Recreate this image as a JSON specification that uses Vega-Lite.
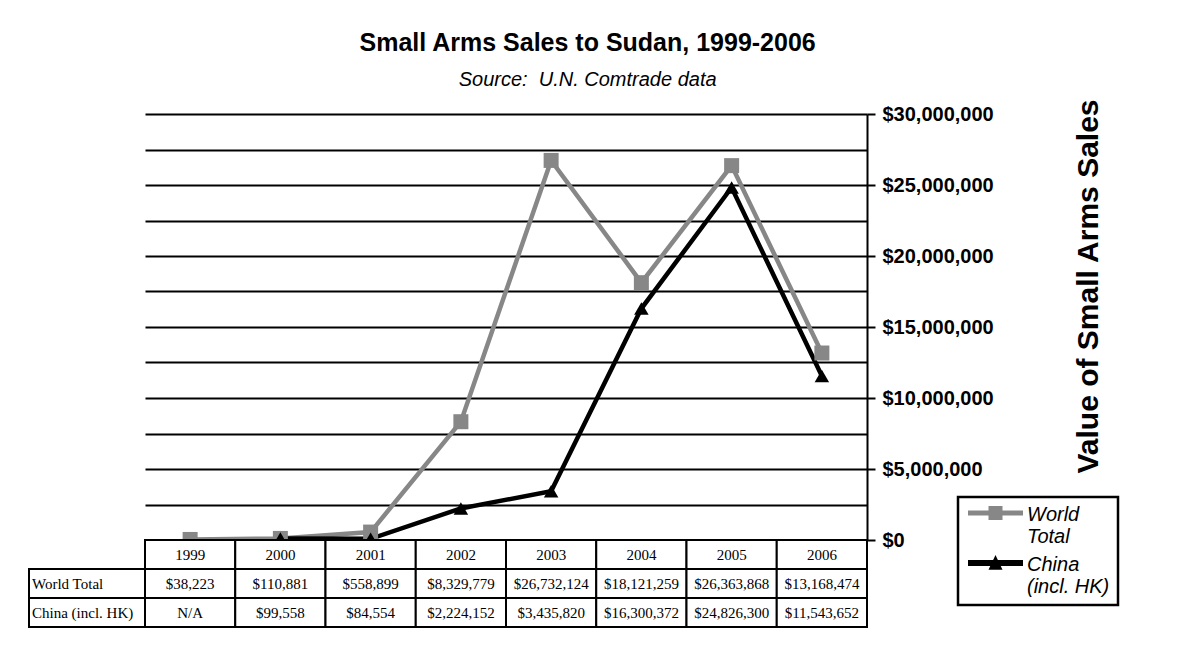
{
  "$schema": "https://vega.github.io/schema/vega-lite/v6.json",
  "background": "white",
  "padding": {"left": 28, "top": 31, "right": 0, "bottom": 0},
  "datasets": {
    "sales": [
      {"year": 1999, "series": "World Total", "value": 38223},
      {"year": 2000, "series": "World Total", "value": 110881},
      {"year": 2001, "series": "World Total", "value": 558899},
      {"year": 2002, "series": "World Total", "value": 8329779},
      {"year": 2003, "series": "World Total", "value": 26732124},
      {"year": 2004, "series": "World Total", "value": 18121259},
      {"year": 2005, "series": "World Total", "value": 26363868},
      {"year": 2006, "series": "World Total", "value": 13168474},
      {"year": 1999, "series": "China (incl. HK)", "value": null},
      {"year": 2000, "series": "China (incl. HK)", "value": 99558},
      {"year": 2001, "series": "China (incl. HK)", "value": 84554},
      {"year": 2002, "series": "China (incl. HK)", "value": 2224152},
      {"year": 2003, "series": "China (incl. HK)", "value": 3435820},
      {"year": 2004, "series": "China (incl. HK)", "value": 16300372},
      {"year": 2005, "series": "China (incl. HK)", "value": 24826300},
      {"year": 2006, "series": "China (incl. HK)", "value": 11543652}
    ]
  },
  "title": {
    "text": "Small Arms Sales to Sudan, 1999-2006",
    "subtitle": "Source:\u00a0 U.N. Comtrade data",
    "anchor": "middle",
    "dx": 14,
    "offset": 8,
    "font": "Liberation Sans",
    "fontSize": 25,
    "fontWeight": "bold",
    "color": "black",
    "subtitleFont": "Liberation Sans",
    "subtitleFontSize": 20,
    "subtitleFontStyle": "italic",
    "subtitleColor": "black",
    "subtitlePadding": 14
  },
  "columns": 2,
  "spacing": 0,
  "bounds": "flush",
  "concat": [
    {
      "width": 116,
      "height": 426,
      "data": {"values": [{}]},
      "mark": {"type": "text"},
      "encoding": {"text": {"value": ""}}
    },
    {
      "width": 722,
      "height": 426,
      "data": {"name": "sales"},
      "resolve": {"scale": {"y": "independent"}},
      "layer": [
        {
          "transform": [{"filter": "datum.year < 0"}],
          "mark": {"type": "point", "opacity": 0},
          "encoding": {
            "y": {
              "field": "value",
              "type": "quantitative",
              "scale": {"domain": [0, 30000000], "nice": false, "zero": true},
              "axis": {
                "orient": "left",
                "values": [0, 2500000, 5000000, 7500000, 10000000, 12500000, 15000000, 17500000, 20000000, 22500000, 25000000, 27500000, 30000000],
                "grid": true,
                "gridColor": "black",
                "gridWidth": 2,
                "gridOpacity": 1,
                "labels": false,
                "ticks": false,
                "domain": false,
                "title": null
              }
            }
          }
        },
        {
          "layer": [
            {
              "transform": [{"filter": "datum.series == 'World Total'"}],
              "mark": {"type": "line", "strokeWidth": 4.5, "color": "#878787"},
              "encoding": {
                "x": {"field": "year", "type": "ordinal", "scale": {"type": "point", "padding": 0.5}, "axis": null},
                "y": {
                  "field": "value",
                  "type": "quantitative",
                  "scale": {"domain": [0, 30000000], "nice": false, "zero": true},
                  "axis": {
                    "orient": "right",
                    "values": [0, 5000000, 10000000, 15000000, 20000000, 25000000, 30000000],
                    "grid": false,
                    "format": "$,d",
                    "domainColor": "black",
                    "domainWidth": 2,
                    "tickColor": "black",
                    "tickWidth": 2,
                    "tickSize": 8,
                    "labelFont": "Liberation Sans",
                    "labelFontSize": 20,
                    "labelFontWeight": "bold",
                    "labelColor": "black",
                    "labelPadding": 7,
                    "labelOverlap": false,
                    "title": "Value of Small Arms Sales",
                    "titleFont": "Liberation Sans",
                    "titleFontSize": 30,
                    "titleFontWeight": "bold",
                    "titleColor": "black",
                    "titleAngle": 270,
                    "titleBaseline": "top",
                    "titleAlign": "center",
                    "titleY": 172,
                    "titlePadding": 80
                  }
                }
              }
            },
            {
              "transform": [{"filter": "datum.series == 'China (incl. HK)'"}],
              "mark": {"type": "line", "strokeWidth": 4.5, "color": "#000000"},
              "encoding": {
                "x": {"field": "year", "type": "ordinal"},
                "y": {"field": "value", "type": "quantitative"}
              }
            },
            {
              "transform": [{"filter": "datum.series == 'World Total'"}],
              "mark": {"type": "point", "filled": true, "shape": "square", "size": 225, "color": "#878787", "opacity": 1},
              "encoding": {
                "x": {"field": "year", "type": "ordinal"},
                "y": {"field": "value", "type": "quantitative"}
              }
            },
            {
              "transform": [{"filter": "datum.series == 'China (incl. HK)'"}],
              "mark": {"type": "point", "filled": true, "shape": "triangle-up", "size": 210, "color": "#000000", "opacity": 1},
              "encoding": {
                "x": {"field": "year", "type": "ordinal"},
                "y": {"field": "value", "type": "quantitative"}
              }
            },
            {
              "transform": [{"filter": "datum.year < 0"}],
              "mark": {"type": "point", "filled": true, "opacity": 1},
              "encoding": {
                "color": {
                  "field": "series",
                  "type": "nominal",
                  "scale": {"domain": ["World Total", "China (incl. HK)"], "range": ["#878787", "#000000"]},
                  "legend": {
                    "title": null,
                    "orient": "none",
                    "legendX": 929,
                    "legendY": 383,
                    "symbolSize": 400,
                    "symbolStrokeWidth": 0,
                    "symbolOffset": 19.5,
                    "labelOffset": 21.5,
                    "padding": 8,
                    "rowPadding": 8,
                    "labelExpr": "datum.label == 'World Total' ? ['World', 'Total'] : ['China', '(incl. HK)']",
                    "labelFont": "Liberation Sans",
                    "labelFontSize": 20,
                    "labelFontStyle": "italic",
                    "labelColor": "black",
                    "labelBaseline": "middle",
                    "strokeColor": "black",
                    "fillColor": "white"
                  }
                },
                "shape": {
                  "field": "series",
                  "type": "nominal",
                  "scale": {
                    "domain": ["World Total", "China (incl. HK)"],
                    "range": [
                      "M-2.75,-0.45H2.75V0.05H-2.75Z M-0.7,-0.9H0.7V0.5H-0.7Z",
                      "M-2.75,-0.5H2.75V0.1H-2.75Z M0,-1.0L0.7,0.47H-0.7Z"
                    ]
                  },
                  "legend": {
                    "title": null,
                    "orient": "none",
                    "legendX": 929,
                    "legendY": 383,
                    "symbolSize": 400,
                    "symbolStrokeWidth": 0,
                    "symbolOffset": 19.5,
                    "labelOffset": 21.5,
                    "padding": 8,
                    "rowPadding": 8,
                    "labelExpr": "datum.label == 'World Total' ? ['World', 'Total'] : ['China', '(incl. HK)']",
                    "labelFont": "Liberation Sans",
                    "labelFontSize": 20,
                    "labelFontStyle": "italic",
                    "labelColor": "black",
                    "labelBaseline": "middle",
                    "strokeColor": "black",
                    "fillColor": "white"
                  }
                }
              }
            }
          ]
        }
      ]
    },
    {
      "width": 116,
      "height": 87,
      "data": {"name": "sales"},
      "transform": [{"filter": "datum.year == 1999"}],
      "layer": [
        {
          "mark": {"type": "rect", "fill": "white", "stroke": "black", "strokeWidth": 2},
          "encoding": {
            "y": {"field": "series", "type": "nominal", "scale": {"domain": ["header", "World Total", "China (incl. HK)"], "paddingInner": 0, "paddingOuter": 0}, "axis": null}
          }
        },
        {
          "mark": {"type": "text", "align": "left", "dx": -55, "font": "Liberation Serif", "fontSize": 15, "color": "black"},
          "encoding": {
            "y": {"field": "series", "type": "nominal"},
            "text": {"field": "series", "type": "nominal"}
          }
        }
      ]
    },
    {
      "width": 722,
      "height": 87,
      "data": {"name": "sales"},
      "layer": [
        {
          "mark": {"type": "rect", "fill": "white", "stroke": "black", "strokeWidth": 2},
          "encoding": {
            "x": {"field": "year", "type": "ordinal", "scale": {"paddingInner": 0, "paddingOuter": 0}, "axis": null},
            "y": {"field": "series", "type": "nominal", "scale": {"domain": ["header", "World Total", "China (incl. HK)"], "paddingInner": 0, "paddingOuter": 0}, "axis": null}
          }
        },
        {
          "transform": [{"filter": "datum.series == 'World Total'"}],
          "mark": {"type": "rect", "fill": "white", "stroke": "black", "strokeWidth": 2},
          "encoding": {
            "x": {"field": "year", "type": "ordinal"},
            "y": {"datum": "header", "type": "nominal"}
          }
        },
        {
          "mark": {"type": "text", "font": "Liberation Serif", "fontSize": 15, "color": "black"},
          "encoding": {
            "x": {"field": "year", "type": "ordinal"},
            "y": {"field": "series", "type": "nominal"},
            "text": {"condition": {"test": "datum.value === null", "value": "N/A"}, "field": "value", "type": "quantitative", "format": "$,d"}
          }
        },
        {
          "transform": [{"filter": "datum.series == 'World Total'"}],
          "mark": {"type": "text", "font": "Liberation Serif", "fontSize": 15, "color": "black"},
          "encoding": {
            "x": {"field": "year", "type": "ordinal"},
            "y": {"datum": "header", "type": "nominal"},
            "text": {"field": "year", "type": "ordinal"}
          }
        }
      ]
    }
  ],
  "config": {
    "view": {"stroke": null},
    "font": "Liberation Sans",
    "legend": {"strokeWidth": 2.5}
  }
}
